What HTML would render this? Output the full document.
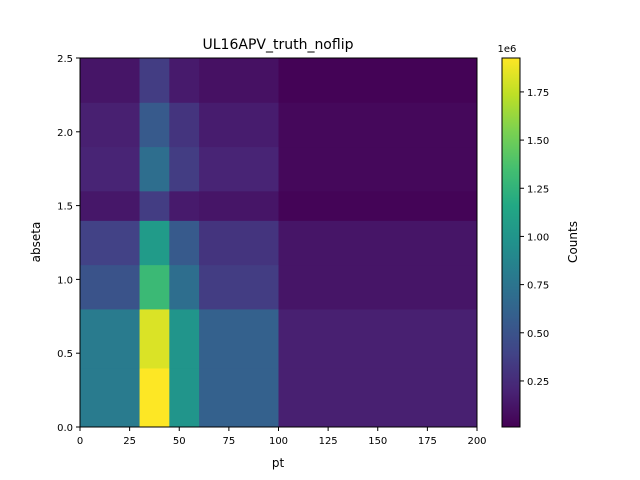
<!DOCTYPE html>
<html><head><meta charset="utf-8"><style>
body{margin:0;background:#fff;}
svg{display:block;font-family:"DejaVu Sans","Liberation Sans",sans-serif;}
</style></head><body>
<svg id="c" width="640" height="480" viewBox="0 0 640 480">
<defs><linearGradient id="vir" x1="0" y1="1" x2="0" y2="0">
<stop offset="0" stop-color="#440154"/><stop offset="0.1" stop-color="#482475"/><stop offset="0.2" stop-color="#414487"/><stop offset="0.3" stop-color="#355f8d"/><stop offset="0.4" stop-color="#2a788e"/><stop offset="0.5" stop-color="#21918c"/><stop offset="0.6" stop-color="#22a884"/><stop offset="0.7" stop-color="#44bf70"/><stop offset="0.8" stop-color="#7ad151"/><stop offset="0.9" stop-color="#bddf26"/><stop offset="1" stop-color="#fde725"/>
</linearGradient></defs>
<text x="278" y="49" font-size="14" text-anchor="middle">UL16APV_truth_noflip</text>
<g id="cells"></g>
<rect x="80" y="58" width="397" height="369" fill="none" stroke="#000" stroke-width="1"/>
<g id="axes" font-size="10"></g>
<text x="278" y="467" font-size="12" text-anchor="middle">pt</text>
<text transform="translate(40,242) rotate(-90)" font-size="12" text-anchor="middle">abseta</text>
<rect x="502" y="58" width="18" height="369" fill="url(#vir)" stroke="#000" stroke-width="1"/>
<text x="507" y="52" font-size="10" text-anchor="middle">1e6</text>
<text transform="translate(577,242) rotate(-90)" font-size="12" text-anchor="middle">Counts</text>
</svg>
<script>
const xEdges=[0,30,45,60,100,200];
const yEdges=[0,0.4,0.8,1.1,1.4,1.6,1.9,2.2,2.5];
const row0=[0.80,1.93,1.00,0.60,0.18];
const row1=[0.80,1.82,1.00,0.60,0.18];
const row2=[0.50,1.30,0.70,0.35,0.12];
const row3=[0.38,1.05,0.55,0.30,0.12];
const row4=[0.13,0.35,0.15,0.12,0.03];
const row5=[0.20,0.70,0.35,0.20,0.05];
const row6=[0.18,0.55,0.30,0.16,0.05];
const row7=[0.12,0.35,0.15,0.10,0.02];
const values=[row0,row1,row2,row3,row4,row5,row6,row7];
const xTicks=[0,25,50,75,100,125,150,175,200];
const yTicks=[0,0.5,1.0,1.5,2.0,2.5];
const cTicks=[0.25,0.5,0.75,1.0,1.25,1.5,1.75];
const vmin=0.011,vmax=1.926;
const NS="http://www.w3.org/2000/svg";
const X=v=>80+v/200*397, Y=v=>427-v/2.5*369, CY=v=>427-(v-vmin)/(vmax-vmin)*369;
const vir=["#440154","#482475","#414487","#355f8d","#2a788e","#21918c","#22a884","#44bf70","#7ad151","#bddf26","#fde725"].map(h=>[1,3,5].map(i=>parseInt(h.substr(i,2),16)));
function col(v){let t=Math.max(0,Math.min(1,(v-vmin)/(vmax-vmin)))*10;let i=Math.min(9,Math.floor(t)),f=t-i;const c=vir[i].map((a,k)=>Math.round(a+(vir[i+1][k]-a)*f));return `rgb(${c})`;}
const cells=document.getElementById('cells');
values.forEach((row,j)=>row.forEach((v,i)=>{
const r=document.createElementNS(NS,'rect');
r.setAttribute('x',X(xEdges[i]));r.setAttribute('y',Y(yEdges[j+1]));
r.setAttribute('width',X(xEdges[i+1])-X(xEdges[i])+0.5);r.setAttribute('height',Y(yEdges[j])-Y(yEdges[j+1])+0.5);
r.setAttribute('fill',col(v));


cells.appendChild(r);}));
const ax=document.getElementById('axes');
function line(x1,y1,x2,y2){const l=document.createElementNS(NS,'line');l.setAttribute('x1',x1);l.setAttribute('y1',y1);l.setAttribute('x2',x2);l.setAttribute('y2',y2);l.setAttribute('stroke','#000');


ax.appendChild(l);}
function txt(x,y,s,a,name){const t=document.createElementNS(NS,'text');t.setAttribute('x',x);t.setAttribute('y',y);t.setAttribute('text-anchor',a);t.textContent=s;


ax.appendChild(t);}
xTicks.forEach(v=>{line(X(v),427,X(v),431);txt(X(v),444,String(v),'middle','x-tick-label');});
yTicks.forEach(v=>{line(76,Y(v),80,Y(v));txt(73,Y(v)+4,v.toFixed(1),'end','y-tick-label');});
cTicks.forEach(v=>{line(520,CY(v),524,CY(v));txt(527,CY(v)+4,v.toFixed(2),'start','colorbar-tick-label');});
</script>
</body></html>
